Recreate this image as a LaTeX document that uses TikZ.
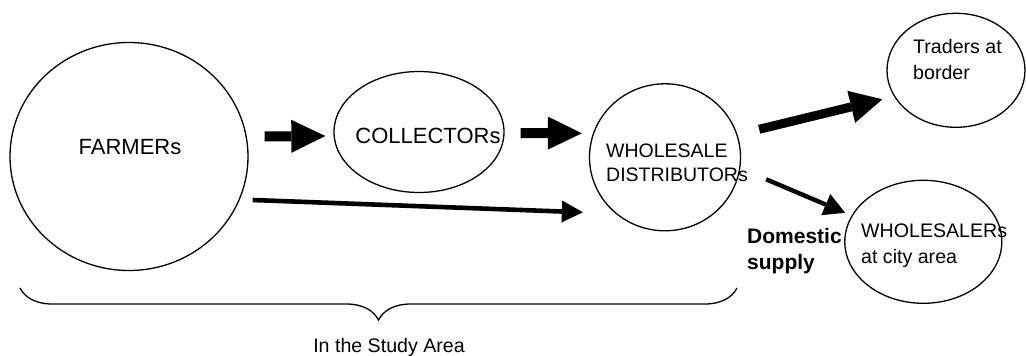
\documentclass[tikz,border=0pt]{standalone}
\usepackage{fontspec}
\setmainfont{Liberation Sans}
\usetikzlibrary{positioning, calc, shapes.geometric, arrows.meta, decorations.pathreplacing}

\begin{document}
\begin{tikzpicture}[x=1pt, y=-1pt,
    blob/.style={ellipse, draw, line width=1.3pt, inner sep=0pt},
    big/.style={font=\fontsize{22}{26}\selectfont},
    small/.style={font=\fontsize{19.6}{25.7}\selectfont},
    lbl/.style={inner sep=0pt, anchor=north west, align=left},
    fatflow/.style={line width=10pt, -{Triangle[length=34pt, width=33pt, line width=0pt]}},
    thinflow/.style={line width=4.6pt, -{Triangle[length=21pt, width=22pt, line width=0pt]}}]
			\useasboundingbox (0,0) rectangle (1026,356);

			\node[blob, minimum width=238pt, minimum height=228pt] (farmers) at (129,156.5) {};
			\node[blob, minimum width=170pt, minimum height=121pt] (coll) at (419,132) {};
			\node[blob, minimum width=151pt, minimum height=147pt] (dist) at (665,157.3) {};
			\node[blob, minimum width=138pt, minimum height=114pt] (traders) at (956,70.3) {};
			\node[blob, minimum width=157pt, minimum height=123pt] (city) at (923.3,241.8) {};

			\node[big, inner sep=0pt, anchor=base] (farmersTxt) at (130,154) {FARMERs};
			\node[big, inner sep=0pt, anchor=base] (collTxt) at (428,143) {COLLECTORs};
			\node[small, lbl, font=\fontsize{19.5}{23.4}\selectfont] (distTxt) at (606,144) {WHOLESALE\\DISTRIBUTORs};
			\node[small, lbl] (tradersTxt) at (913,39) {Traders at\\border};
			\node[small, lbl, font=\fontsize{19.6}{26}\selectfont] (cityTxt) at (861,224) {WHOLESALERs\\at city area};
			\node[lbl, font=\fontsize{21}{26}\selectfont\bfseries] (domestic) at (747,228) {Domestic\\supply};

			\draw[fatflow] ($(farmers.east)+(16,-20)$) -- ($(coll.west)+(-8,4)$);
			\draw[fatflow] ($(coll.east)+(16,1)$) -- ($(dist.west)+(-7,-24)$);
			\draw[thinflow] ($(farmers.east)+(4,43.5)$) -- ($(dist.west)+(-6,55)$);
			\draw[line width=9pt, -{Triangle[length=32pt, width=33pt, line width=0pt]}] ($(dist.east)+(18,-28)$) -- ($(traders.west)+(-4,29)$);
			\draw[line width=4.4pt, -{Triangle[length=21pt, width=23pt, line width=0pt]}] ($(dist.east)+(25,22)$) -- ($(city.west)+(1,-29)$);

			\coordinate (areaL) at (20,288);
			\coordinate (areaR) at (737,288);
			\draw[line width=1.3pt, decorate, decoration={brace, mirror, amplitude=32pt}] (areaL) -- (areaR);
			\node[small, inner sep=0pt, anchor=base] (area) at (389,352) {In the Study Area};
		\end{tikzpicture}
\end{document}
